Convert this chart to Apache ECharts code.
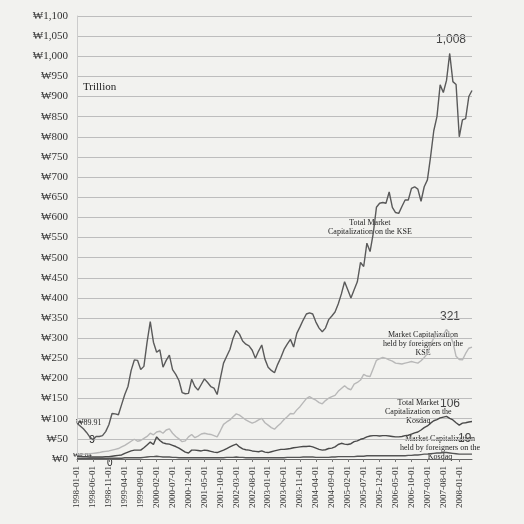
<!DOCTYPE html>
<html>
<head>
<meta charset="utf-8">
<script src="https://cdn.jsdelivr.net/npm/echarts@6/dist/echarts.min.js"></script>
<style>
html,body{margin:0;padding:0;background:#f2f2ef;}
#c{width:524px;height:524px;}
</style>
</head>
<body>
<div id="c"></div>
<script>
// Monthly categories 1998-01 .. 2008-05
const months = [];
for (let y = 1998; y <= 2008; y++) {
  for (let m = 1; m <= 12; m++) {
    if (y === 2008 && m > 5) break;
    months.push(y + '-' + String(m).padStart(2, '0') + '-01');
  }
}

const kseTotal = [
  89,82,75,66,55,48,56,56,58,68,85,113,112,110,135,160,180,220,246,245,
  222,230,290,341,290,265,271,228,245,258,222,210,195,165,162,163,198,180,171,185,
  199,190,180,176,160,200,238,255,272,300,319,310,293,285,281,270,250,268,283,248,
  228,220,214,235,252,272,285,297,278,312,328,345,360,363,360,340,325,316,325,346,
  355,365,385,410,440,420,400,420,440,488,478,536,515,560,625,635,637,635,663,625,
  612,610,627,643,643,672,676,670,640,676,693,751,815,850,929,910,940,1007,937,930,
  800,842,845,900,915
];

const kseForeign = [
  10,11,12,12,13,14,15,16,18,19,20,22,24,26,30,34,39,44,49,44,
  46,51,56,64,60,67,69,64,72,75,64,56,50,43,45,55,61,53,57,62,
  64,62,61,58,55,70,86,92,97,105,112,109,103,97,93,89,92,97,101,90,
  84,78,74,82,89,98,105,113,112,122,130,140,150,155,150,146,140,137,145,151,
  155,158,168,175,182,175,172,186,190,196,210,206,205,225,245,249,252,250,246,243,
  238,237,236,238,240,242,240,238,244,252,262,285,300,312,304,308,322,310,290,255,
  247,246,262,275,278
];

const kosdaqTotal = [
  7,7,6,6,5,5,5,5,5,6,6,7,8,9,10,14,17,20,22,22,
  22,28,35,42,36,55,46,40,38,37,34,31,27,22,17,15,22,22,21,20,
  22,21,19,17,16,19,22,26,30,34,37,30,25,23,22,20,19,18,20,17,
  16,18,20,22,24,24,25,26,28,29,30,31,31,32,30,27,24,22,23,26,
  27,30,36,39,37,36,38,43,45,49,51,55,57,58,58,57,58,58,57,56,
  55,55,56,58,59,62,65,67,72,78,82,89,95,98,102,104,106,101,97,90,
  84,89,90,92,93
];

const kosdaqForeign = [
  2.04,2,2,2,2,2,2,2,2,2,2,2,2,2,2,3,3,3,3,3,
  3,4,5,6,6,7,6,5,5,5,4,4,3,3,3,3,3,3,3,3,
  3,3,3,3,3,3,3,4,4,4,5,4,4,3,3,3,3,3,3,3,
  3,3,3,3,3,3,4,4,4,4,4,5,5,5,5,4,4,4,4,4,
  5,5,6,6,6,6,6,6,7,7,7,8,8,8,8,8,8,8,8,8,
  8,8,8,8,9,9,10,10,11,12,12,13,14,15,15,16,16,15,14,13,
  12,12,12,12,12
];

const yMin = 0, yMax = 1100, yStep = 50;

const serif = '"Liberation Serif","DejaVu Serif",serif';
const sans = '"Liberation Sans","DejaVu Sans",sans-serif';

function won(v) {
  return '\u20A9' + v.toLocaleString('en-US');
}

function txt(x, y, text, opt) {
  opt = opt || {};
  return {
    type: 'text', left: x, top: y, silent: true,
    style: {
      text: text,
      font: (opt.weight || 'normal') + ' ' + (opt.size || 9) + 'px ' + (opt.family || serif),
      fill: opt.color || '#222',
      textAlign: opt.align || 'left',
      lineHeight: opt.lh || 9
    }
  };
}

const chart = echarts.init(document.getElementById('c'));
const lineBase = { type: 'line', symbol: 'none', smooth: false, animation: false };

chart.setOption({
  backgroundColor: '#f2f2ef',
  grid: { left: 77, right: 52, top: 16, bottom: 65, containLabel: false },
  xAxis: {
    type: 'category',
    data: months,
    boundaryGap: false,
    axisLine: { lineStyle: { color: '#666', width: 1 } },
    axisTick: { show: true, interval: 4, length: 3, lineStyle: { color: '#777' } },
    axisLabel: {
      interval: 4, rotate: 90, fontFamily: serif, fontSize: 9, color: '#333', margin: 7
    },
    splitLine: { show: false }
  },
  yAxis: {
    type: 'value',
    min: yMin, max: yMax, interval: yStep,
    axisLine: { show: true, lineStyle: { color: '#ccc' } },
    axisTick: { show: false },
    axisLabel: { formatter: won, fontFamily: serif, fontSize: 11, color: '#333', margin: 9 },
    splitLine: { lineStyle: { color: '#bdbdbd', width: 1 } }
  },
  series: [
    Object.assign({}, lineBase, { name: 'KSE total', data: kseTotal, lineStyle: { color: '#5a5a5a', width: 1.4 } }),
    Object.assign({}, lineBase, { name: 'KSE foreign', data: kseForeign, lineStyle: { color: '#b8b8b8', width: 1.4 } }),
    Object.assign({}, lineBase, { name: 'Kosdaq total', data: kosdaqTotal, lineStyle: { color: '#4a4a4a', width: 1.4 } }),
    Object.assign({}, lineBase, { name: 'Kosdaq foreign', data: kosdaqForeign, lineStyle: { color: '#555', width: 1.4 } })
  ],
  graphic: [
    txt(83, 82, 'Trillion', { size: 11 }),
    txt(436, 34, '1,008', { size: 12, family: sans, color: '#444' }),
    txt(328, 218, 'Total Market\nCapitalization on the KSE', { size: 8, align: 'center' }),
    txt(383, 330, 'Market Capitalization\nheld by foreigners on the\nKSE', { size: 8, align: 'center' }),
    txt(440, 311, '321', { size: 12, family: sans, color: '#444' }),
    txt(385, 398, 'Total Market\nCapitalization on the\nKosdaq', { size: 8, align: 'center' }),
    txt(440, 398, '106', { size: 12, family: sans, color: '#444' }),
    txt(400, 434, 'Market Capitalization\nheld by foreigners on the\nKosdaq', { size: 8, align: 'center' }),
    txt(458, 433, '19', { size: 12, family: sans, color: '#444' }),
    txt(76, 418, '\u20A989.91', { size: 8 }),
    txt(89, 434, '9', { size: 11, family: sans }),
    txt(73, 451, '\u20A92.04', { size: 7 }),
    txt(107, 458, '0', { size: 10, family: sans })
  ]
});
</script>
</body>
</html>
